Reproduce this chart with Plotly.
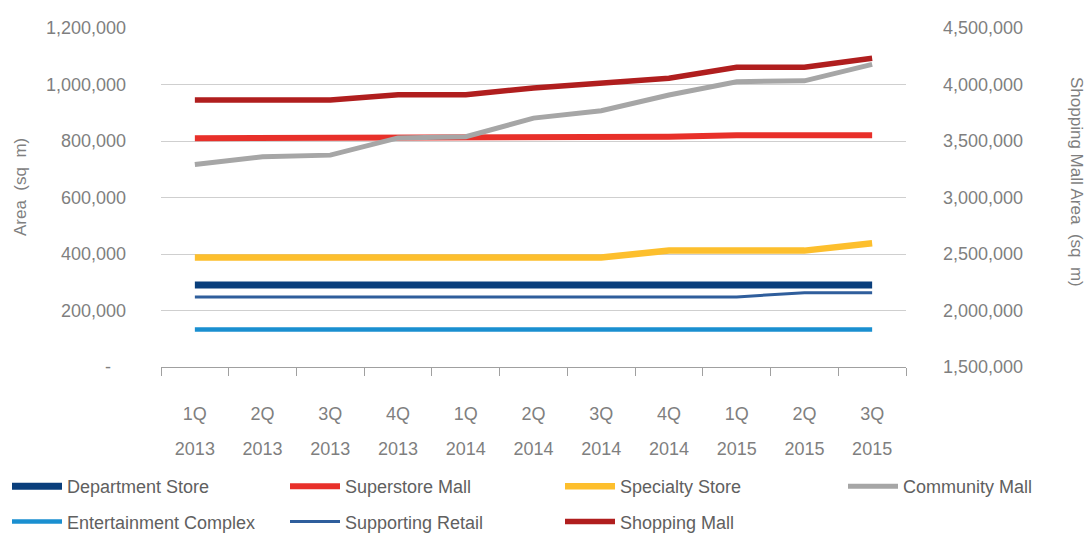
import plotly.graph_objects as go

# ---------------- data ----------------
quarters = ["1Q", "2Q", "3Q", "4Q", "1Q", "2Q", "3Q", "4Q", "1Q", "2Q", "3Q"]
years = ["2013", "2013", "2013", "2013", "2014", "2014", "2014", "2014", "2015", "2015", "2015"]
periods = [f"{q} {y}" for q, y in zip(quarters, years)]

department_store = [290000, 290000, 290000, 290000, 290000, 290000, 290000, 290000, 290000, 290000, 290000]
superstore_mall = [810000, 810000, 810000, 810000, 810000, 815000, 815000, 815000, 820000, 820000, 820000]
specialty_store = [388000, 388000, 388000, 388000, 388000, 388000, 388000, 412000, 412000, 412000, 438000]
community_mall = [717000, 744000, 750000, 811000, 815000, 881000, 907000, 963000, 1010000, 1013000, 1071000]
entertainment_complex = [133000, 133000, 133000, 133000, 133000, 133000, 133000, 133000, 133000, 133000, 133000]
supporting_retail = [248000, 248000, 248000, 248000, 248000, 248000, 248000, 248000, 248000, 263000, 263000]
shopping_mall = [3863000, 3863000, 3863000, 3910000, 3910000, 3970000, 4010000, 4055000, 4152000, 4152000, 4232000]

left_ticks = [0, 200000, 400000, 600000, 800000, 1000000, 1200000]
left_ticktext = ["-\u00a0\u00a0\u00a0", "200,000", "400,000", "600,000", "800,000", "1,000,000", "1,200,000"]
right_ticks = [1500000, 2000000, 2500000, 3000000, 3500000, 4000000, 4500000]
right_ticktext = ["1,500,000", "2,000,000", "2,500,000", "3,000,000", "3,500,000", "4,000,000", "4,500,000"]

# ---------------- style ----------------
FONT = "Liberation Sans, Arial, sans-serif"
TICK_COLOR = "#7f7f7f"
LEG_COLOR = "#606060"
GRID = "#cfcfcf"

# name, values, colour, width, y axis, legend column
series = [
    ("Department Store", department_store, "#0a3f7c", 7, "y", "legend"),
    ("Superstore Mall", superstore_mall, "#e8302a", 6, "y", "legend2"),
    ("Specialty Store", specialty_store, "#fdbf2d", 6.5, "y", "legend3"),
    ("Community Mall", community_mall, "#a6a6a6", 5, "y", "legend4"),
    ("Entertainment Complex", entertainment_complex, "#1a8fd0", 4.5, "y", "legend"),
    ("Supporting Retail", supporting_retail, "#2f5e9c", 3, "y", "legend2"),
    ("Shopping Mall", shopping_mall, "#b01e1e", 5.5, "y2", "legend3"),
]

fig = go.Figure()
for name, vals, color, width, yax, leg in series:
    fig.add_trace(go.Scatter(
        x=periods, y=vals, name=name, mode="lines",
        line=dict(color=color, width=width),
        yaxis=yax, legend=leg, legendgroup=name,
    ))

# invisible helper trace to carry the year tick labels on a second x axis
fig.add_trace(go.Scatter(
    x=periods, y=department_store, xaxis="x2", yaxis="y", mode="lines",
    line=dict(width=0), opacity=0, showlegend=False, hoverinfo="skip",
))

LEG_TOP = 468
def leg(xpix):
    return dict(
        orientation="v", xref="container", yref="container",
        x=xpix / 1088, y=1 - LEG_TOP / 534, xanchor="left", yanchor="top",
        traceorder="grouped", tracegroupgap=9, itemwidth=50,
        font=dict(size=18, color=LEG_COLOR), bgcolor="rgba(0,0,0,0)",
    )

fig.update_layout(
    width=1088, height=534,
    margin=dict(l=161, r=182, t=28, b=167, autoexpand=False),
    paper_bgcolor="white", plot_bgcolor="white",
    font=dict(family=FONT, size=18, color=TICK_COLOR),
    xaxis=dict(
        type="category", categoryorder="array", categoryarray=periods,
        range=[-0.5, 10.5], tickvals=periods, ticktext=quarters,
        tickson="boundaries", ticks="outside", ticklen=8, tickcolor="#a0a0a0",
        showline=True, linecolor="#a0a0a0", linewidth=1, showgrid=False,
        ticklabelstandoff=30, tickfont=dict(size=18, color=TICK_COLOR),
        automargin=False,
    ),
    xaxis2=dict(
        type="category", categoryorder="array", categoryarray=periods,
        range=[-0.5, 10.5], tickvals=periods, ticktext=years,
        overlaying="x", anchor="y", side="bottom",
        ticks="", showline=False, showgrid=False,
        ticklabelstandoff=69, tickfont=dict(size=18, color=TICK_COLOR),
        automargin=False,
    ),
    yaxis=dict(
        range=[0, 1200000], tickvals=left_ticks, ticktext=left_ticktext,
        showgrid=True, gridcolor=GRID, gridwidth=1, zeroline=False,
        showline=False, ticks="", ticklabelstandoff=34,
        tickfont=dict(size=18, color=TICK_COLOR), automargin=False,
    ),
    yaxis2=dict(
        range=[1500000, 4500000], tickvals=right_ticks, ticktext=right_ticktext,
        overlaying="y", side="right", showgrid=False, zeroline=False,
        showline=False, ticks="", ticklabelstandoff=36,
        tickfont=dict(size=18, color=TICK_COLOR), automargin=False,
    ),
    legend=leg(7),
    legend2=leg(285),
    legend3=leg(560),
    legend4=leg(843),
    annotations=[
        dict(text="Area  (sq  m)", xref="paper", yref="paper",
             x=(21 - 161) / 745, y=(367 - 187) / 339, textangle=-90,
             xanchor="center", yanchor="middle",
             showarrow=False, font=dict(size=17, color=TICK_COLOR)),
        dict(text="Shopping Mall Area  (sq  m)", xref="paper", yref="paper",
             x=(1077 - 161) / 745, y=(367 - 182) / 339, textangle=90,
             xanchor="center", yanchor="middle",
             showarrow=False, font=dict(size=17, color=TICK_COLOR)),
    ],
    showlegend=True,
)

fig.write_html("out.html")
